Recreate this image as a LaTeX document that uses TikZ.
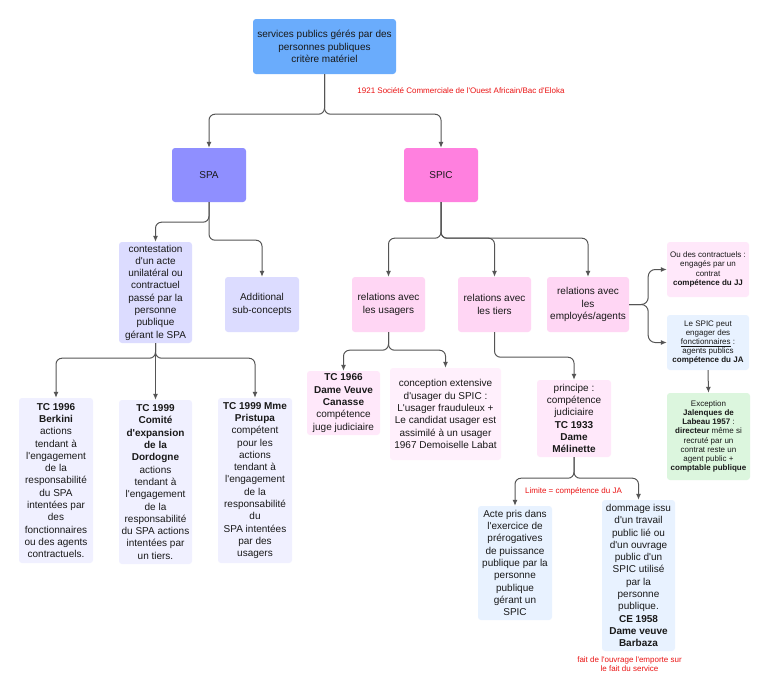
\documentclass[tikz,border=0pt]{standalone}
\usepackage{fontspec}
\setmainfont{Liberation Sans}[Ligatures=TeXOff]
\usetikzlibrary{arrows.meta}
\definecolor{topblue}{RGB}{106,172,252}
\definecolor{spacol}{RGB}{143,143,255}
\definecolor{spiccol}{RGB}{255,128,223}
\definecolor{lav}{RGB}{220,220,255}
\definecolor{lavlight}{RGB}{240,240,255}
\definecolor{pinkmid}{RGB}{255,214,244}
\definecolor{pinklight}{RGB}{255,232,250}
\definecolor{pinkpale}{RGB}{255,240,252}
\definecolor{bluelight}{RGB}{232,242,255}
\definecolor{greenlight}{RGB}{220,246,222}
\definecolor{txt}{RGB}{25,25,25}
\definecolor{linegray}{RGB}{85,85,85}
\definecolor{redtxt}{RGB}{235,20,20}
\tikzset{
  box/.style={rounded corners=3pt, align=center, inner sep=1pt, text=txt,
    font=\fontsize{10}{12.3}\selectfont},
  smallbox/.style={box, font=\fontsize{8}{9.2}\selectfont},
  conn/.style={draw=linegray, line width=1pt, rounded corners=6pt,
    -{Latex[length=6pt,width=5pt]}},
  brace/.style={draw=linegray, line width=1pt, rounded corners=7pt,
    -{Latex[length=6pt,width=5pt]}},
  redlabel/.style={text=redtxt, font=\fontsize{8}{9}\selectfont, align=center, inner sep=0pt},
}
\begin{document}
\begin{tikzpicture}[x=1pt,y=-1pt]
\useasboundingbox (0,0) rectangle (768,697);
\fill[white] (0,0) rectangle (768,697);

% top
\node[box, fill=topblue, minimum width=143pt, minimum height=55pt] (top) at (324.5,46.5)
  {services publics gérés par des\\personnes publiques\\critère matériel};
\node[redlabel] (r1921) at (461,91) {1921 Société Commerciale de l'Ouest Africain/Bac d'Eloka};

% level 1
\node[box, fill=spacol, minimum width=74pt, minimum height=54pt] (spa) at (209,175) {SPA};
\node[box, fill=spiccol, minimum width=74pt, minimum height=54pt] (spic) at (441,175) {SPIC};

% SPA subtree
\node[box, fill=lav, minimum width=73pt, minimum height=101pt] (contest) at (155.5,292.5)
  {contestation\\d'un acte\\unilatéral ou\\contractuel\\passé par la\\personne\\publique\\gérant le SPA};
\node[box, fill=lav, minimum width=74pt, minimum height=55pt] (addl) at (262,304.5)
  {Additional\\sub-concepts};

\node[box, fill=lavlight, minimum width=74pt, minimum height=165pt] (berkini) at (56,480.5)
  {\textbf{TC 1996}\\\textbf{Berkini}\\actions\\tendant à\\l'engagement\\de la\\responsabilité\\du SPA\\intentées par\\des\\fonctionnaires\\ou des agents\\contractuels.};
\node[box, fill=lavlight, minimum width=73pt, minimum height=164pt] (comite) at (155.5,482)
  {\textbf{TC 1999}\\\textbf{Comité}\\\textbf{d'expansion}\\\textbf{de la}\\\textbf{Dordogne}\\actions\\tendant à\\l'engagement\\de la\\responsabilité\\du SPA actions\\intentées par\\un tiers.};
\node[box, fill=lavlight, minimum width=74pt, minimum height=165pt] (pristupa) at (255,480.5)
  {\textbf{TC 1999 Mme}\\\textbf{Pristupa}\\compétent\\pour les\\actions\\tendant à\\l'engagement\\de la\\responsabilité\\du\\SPA intentées\\par des\\usagers};

% SPIC subtree
\node[box, fill=pinkmid, minimum width=73pt, minimum height=55pt] (usagers) at (388.5,304.5)
  {relations avec\\les usagers};
\node[box, fill=pinkmid, minimum width=73pt, minimum height=55pt] (tiers) at (494.5,304.5)
  {relations avec\\les tiers};
\node[box, fill=pinkmid, minimum width=82pt, minimum height=55pt] (employes) at (588,304.5)
  {relations avec\\les\\employés/agents};

\node[box, fill=pinklight, minimum width=73pt, minimum height=64pt] (tcdvc) at (343.5,403)
  {\textbf{TC 1966}\\\textbf{Dame Veuve}\\\textbf{Canasse}\\compétence\\juge judiciaire};
\node[box, fill=pinkpale, minimum width=111pt, minimum height=92pt] (conception) at (445.5,414)
  {conception extensive\\d'usager du SPIC :\\L'usager frauduleux +\\Le candidat usager est\\assimilé à un usager\\1967 Demoiselle Labat};
\node[box, fill=pinklight, minimum width=74pt, minimum height=77pt] (principe) at (574,418.5)
  {principe :\\compétence\\judiciaire\\\textbf{TC 1933}\\\textbf{Dame}\\\textbf{Mélinette}};

\node[box, fill=bluelight, minimum width=74pt, minimum height=114pt] (acte) at (515,563)
  {Acte pris dans\\l'exercice de\\prérogatives\\de puissance\\publique par la\\personne\\publique\\gérant un\\SPIC};
\node[box, fill=bluelight, minimum width=73pt, minimum height=151pt] (dommage) at (638.5,575.5)
  {dommage issu\\d'un travail\\public lié ou\\d'un ouvrage\\public d'un\\SPIC utilisé\\par la\\personne\\publique.\\\textbf{CE 1958}\\\textbf{Dame veuve}\\\textbf{Barbaza}};
\node[redlabel] (limite) at (573.5,491) {Limite = compétence du JA};
\node[redlabel] (fait) at (629.5,664.6) {fait de l'ouvrage l'emporte sur\\le fait du service};

% employees
\node[smallbox, fill=pinklight, minimum width=82pt, minimum height=55pt] (contractuels) at (708,269.5)
  {Ou des contractuels :\\engagés par un\\contrat\\\textbf{compétence du JJ}};
\node[smallbox, fill=bluelight, minimum width=82pt, minimum height=55pt] (lespic) at (708,342.5)
  {Le SPIC peut\\engager des\\\underline{fonctionnaires} :\\agents publics\\\textbf{compétence du JA}};
\node[smallbox, fill=greenlight, minimum width=83pt, minimum height=87pt] (exception) at (708.5,436.5)
  {Exception\\\textbf{Jalenques de}\\\textbf{Labeau 1957} :\\\textbf{directeur} même si\\recruté par un\\contrat reste un\\agent public +\\\textbf{comptable publique}};

% connectors
\draw[conn] (top.south) -- ++(0,40) -| (spa.north);
\draw[conn] (top.south) -- ++(0,40) -| (spic.north);

\draw[conn] (spa.south) -- ++(0,20) -| (contest.north);
\draw[conn] (spa.south) -- ++(0,38) -| (addl.north);

\draw[conn] (contest.south) -- ++(0,15) -| (berkini.north);
\draw[conn] (contest.south) -- (comite.north);
\draw[conn] (contest.south) -- ++(0,15) -| (pristupa.north);

\draw[conn] (spic.south) -- ++(0,36) -| (usagers.north);
\draw[conn] (spic.south) -- ++(0,36) -| (tiers.north);
\draw[conn] (spic.south) -- ++(0,36) -| (employes.north);

\draw[conn] (usagers.south) -- ++(0,18) -| (tcdvc.north);
\draw[conn] (usagers.south) -- ++(0,18) -| (conception.north);

\draw[conn] (tiers.south) -- ++(0,25) -| (principe.north);

\draw[conn] (principe.south) -- ++(0,21) -| (acte.north);
\draw[conn] (principe.south) -- ++(0,21) -| (dommage.north);

\draw[brace] (employes.east) -- ++(19,0) |- (contractuels.west);
\draw[brace] (employes.east) -- ++(19,0) |- (lespic.west);

\draw[conn] (lespic.south) -- (exception.north);
\end{tikzpicture}
\end{document}
